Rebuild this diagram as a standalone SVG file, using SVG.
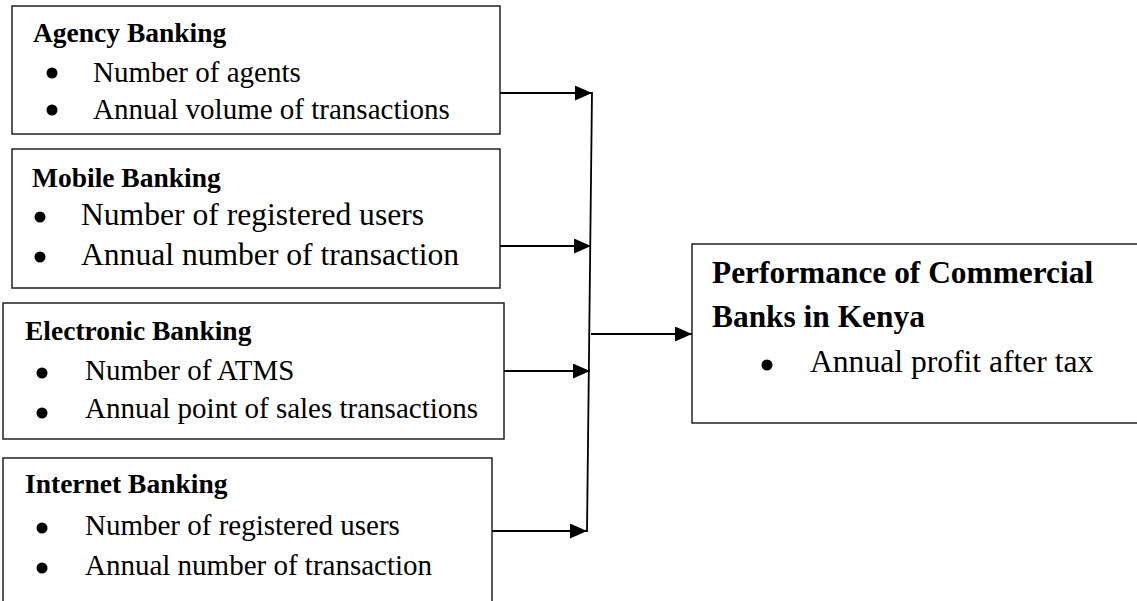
<svg xmlns="http://www.w3.org/2000/svg" width="1137" height="601" viewBox="0 0 1137 601">
<style>
.box{fill:#fff;stroke:#222;stroke-width:1.5}
.t{font-family:"Liberation Serif","Times New Roman",serif;font-weight:bold;font-size:27.5px;fill:#000}
.b{font-family:"Liberation Serif","Times New Roman",serif;font-size:29px;fill:#000}
.b2{font-family:"Liberation Serif","Times New Roman",serif;font-size:31.6px;fill:#000}
.tr{font-family:"Liberation Serif","Times New Roman",serif;font-weight:bold;font-size:31.4px;fill:#000}
.dot{fill:#000}
.con{stroke:#000;stroke-width:2.2;fill:none}
</style>
<defs>
<marker id="ah" viewBox="0 0 17 15" refX="17" refY="7.5" markerWidth="17" markerHeight="15" markerUnits="userSpaceOnUse" orient="auto">
<path d="M0,0 L17,7.5 L0,15 Z" fill="#000"/>
</marker>
</defs>
<rect width="1137" height="601" fill="#fff"/>
<g id="agency">
<rect class="box" x="12" y="6" width="488" height="128"/>
<text class="t" x="33" y="42">Agency Banking</text>
<circle class="dot" cx="52" cy="73" r="5.5"/>
<text class="b" x="93" y="82">Number of agents</text>
<circle class="dot" cx="52" cy="110" r="5.5"/>
<text class="b" x="93" y="119">Annual volume of transactions</text>
</g>
<g id="mobile">
<rect class="box" x="12" y="149" width="488" height="139"/>
<text class="t" x="32" y="187">Mobile Banking</text>
<circle class="dot" cx="40" cy="217" r="5.5"/>
<text class="b2" x="81" y="225">Number of registered users</text>
<circle class="dot" cx="40" cy="257" r="5.5"/>
<text class="b2" x="81" y="265">Annual number of transaction</text>
</g>
<g id="electronic">
<rect class="box" x="3" y="303" width="501" height="136"/>
<text class="t" x="25" y="340">Electronic Banking</text>
<circle class="dot" cx="42" cy="373" r="5.5"/>
<text class="b" x="85" y="380">Number of ATMS</text>
<circle class="dot" cx="42" cy="413" r="5.5"/>
<text class="b" x="85" y="418">Annual point of sales transactions</text>
</g>
<g id="internet">
<rect class="box" x="3" y="458" width="489" height="160"/>
<text class="t" x="25" y="493">Internet Banking</text>
<circle class="dot" cx="42" cy="528" r="5.5"/>
<text class="b" x="85" y="535">Number of registered users</text>
<circle class="dot" cx="42" cy="568" r="5.5"/>
<text class="b" x="85" y="575">Annual number of transaction</text>
</g>
<g id="performance">
<rect class="box" x="692" y="244" width="460" height="179"/>
<text class="tr" x="712" y="283">Performance of Commercial</text>
<text class="tr" x="712" y="327">Banks in Kenya</text>
<circle class="dot" cx="767" cy="365" r="5.5"/>
<text class="b2" x="810" y="372">Annual profit after tax</text>
</g>
<g id="connectors">
<line class="con" x1="500" y1="93" x2="592" y2="93" marker-end="url(#ah)"/>
<line class="con" x1="500" y1="246" x2="591" y2="246" marker-end="url(#ah)"/>
<line class="con" x1="504" y1="371" x2="590" y2="371" marker-end="url(#ah)"/>
<line class="con" x1="492" y1="531" x2="587" y2="531" marker-end="url(#ah)"/>
<line class="con" x1="592" y1="92" x2="587" y2="532" style="stroke-width:1.8"/>
<line class="con" x1="591" y1="334" x2="692" y2="334" marker-end="url(#ah)"/>
</g>
</svg>
